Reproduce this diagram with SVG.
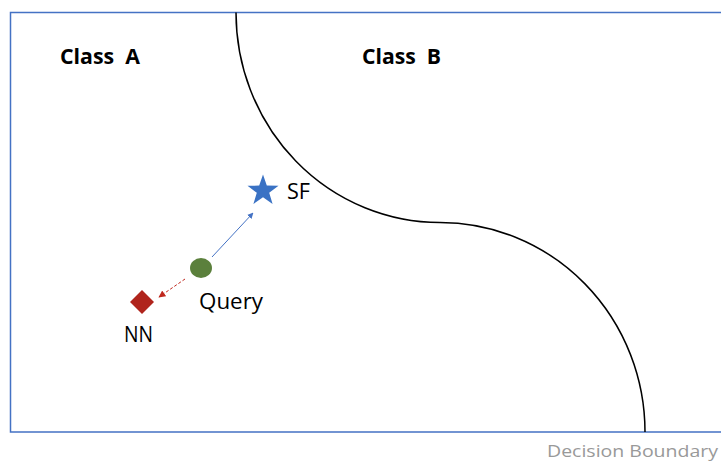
<svg xmlns="http://www.w3.org/2000/svg" width="721" height="461" viewBox="0 0 721 461">
<style>
.lbl{font-family:"Open Sans","Liberation Sans",sans-serif;fill:#000;font-size:21px}
.bold{font-weight:bold}
</style>
<defs>
<marker id="ab" viewBox="0 0 10 10" refX="9" refY="5" markerWidth="6" markerHeight="6" markerUnits="userSpaceOnUse" orient="auto"><path d="M0,0L10,5L0,10z" fill="#4472C4"/></marker>
<marker id="ar" viewBox="0 0 10 10" refX="9" refY="5" markerWidth="7" markerHeight="7" markerUnits="userSpaceOnUse" orient="auto"><path d="M0,0L10,5L0,10z" fill="#C0281E"/></marker>
</defs>
<rect width="721" height="461" fill="#fff"/>
<g id="frame"><path d="M730,12.5H10.5V432H730" fill="none" stroke="#4472C4" stroke-width="1.5"/></g>
<g id="boundary"><path d="M236,12.5A204,210 0 0 0 440,222.5A205,209.5 0 0 1 645,432" fill="none" stroke="#000" stroke-width="1.5"/></g>
<text x="547" y="457" font-family="'Open Sans','Liberation Sans',sans-serif" font-size="16.5" fill="#999" textLength="171" lengthAdjust="spacingAndGlyphs">Decision Boundary</text>
<text class="lbl bold" x="60" y="64" textLength="80" lengthAdjust="spacingAndGlyphs" xml:space="preserve">Class  A</text>
<text class="lbl bold" x="362" y="64" textLength="79" lengthAdjust="spacingAndGlyphs" xml:space="preserve">Class  B</text>
<g id="connectors">
<line x1="212" y1="257" x2="253" y2="213" stroke="#4472C4" stroke-width="1" marker-end="url(#ab)"/>
<line x1="185" y1="279" x2="159" y2="297" stroke="#C0281E" stroke-width="1" stroke-dasharray="3,2" marker-end="url(#ar)"/>
</g>
<g id="sf">
<polygon points="263,174.5 266.8,185.6 278.5,185.8 269.2,192.8 272.6,204 263,197.3 253.4,204 256.8,192.8 247.5,185.8 259.2,185.6" fill="#3A72C4"/>
<text class="lbl" x="287" y="199" textLength="23" lengthAdjust="spacingAndGlyphs">SF</text>
</g>
<g id="query">
<ellipse cx="201" cy="268" rx="11" ry="10" fill="#5B803C"/>
<text class="lbl" x="199" y="309" textLength="64" lengthAdjust="spacingAndGlyphs">Query</text>
</g>
<g id="nn">
<polygon points="142,290 154,302 142,314 130,302" fill="#B0241C"/>
<text class="lbl" x="124" y="342" textLength="29" lengthAdjust="spacingAndGlyphs">NN</text>
</g>
</svg>
